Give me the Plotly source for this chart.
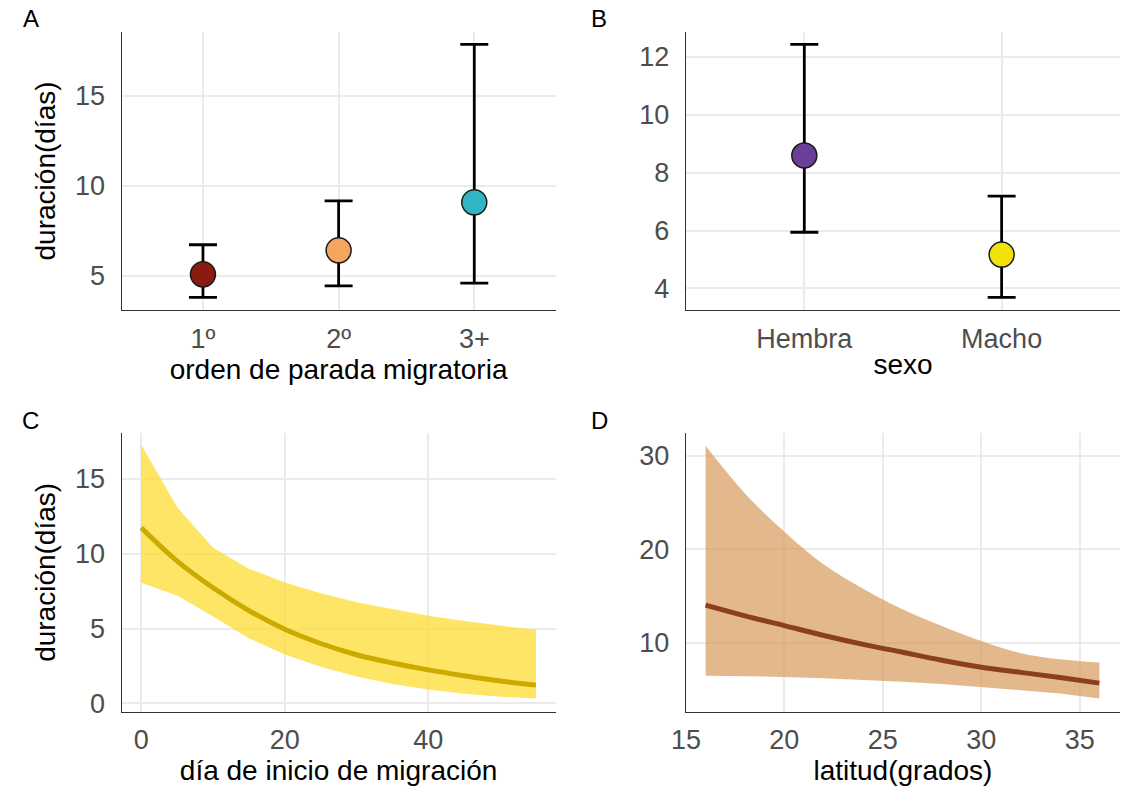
import plotly.graph_objects as go

# ---------------- data ----------------
# Panel A
orden_cat = ["1º", "2º", "3+"]
orden_est = [5.09, 6.42, 9.08]
orden_hi = [6.73, 9.16, 17.84]
orden_lo = [3.81, 4.45, 4.60]
orden_col = ["#8B1A13", "#F4A65F", "#2FB5C3"]

# Panel B
sexo_cat = ["Hembra", "Macho"]
sexo_est = [8.59, 5.17]
sexo_hi = [12.42, 7.19]
sexo_lo = [5.94, 3.69]
sexo_col = ["#6A3F98", "#F1E20A"]

# Panel C
dia_x = [0, 5, 10, 15, 20, 25, 30, 35, 40, 45, 50, 55]
dia_fit = [11.73, 9.5, 7.72, 6.2, 4.95, 4.0, 3.25, 2.7, 2.24, 1.85, 1.5, 1.22]
dia_hi = [17.27, 13.1, 10.4, 9.0, 8.07, 7.35, 6.75, 6.28, 5.85, 5.5, 5.2, 4.9]
dia_lo = [8.05, 7.2, 5.8, 4.35, 3.27, 2.45, 1.8, 1.3, 0.92, 0.65, 0.45, 0.32]

# Panel D
lat_x = [16, 18, 20, 22, 24, 26, 28, 30, 32, 34, 36]
lat_fit = [14.05, 12.9, 11.85, 10.8, 9.85, 9.0, 8.15, 7.4, 6.85, 6.3, 5.7]
lat_hi = [31.1, 26.0, 21.9, 18.4, 15.8, 13.6, 11.8, 10.2, 8.9, 8.25, 7.9]
lat_lo = [6.5, 6.45, 6.36, 6.22, 6.05, 5.85, 5.6, 5.3, 4.95, 4.6, 4.05]

W, H = 1122, 788
FONT = "Liberation Sans"
TICK_COL = "#4D4D4D"
GRID = "#EBEBEB"

fig = go.Figure()

def err_trace(xs, ys, hi, lo, cols, xa, ya):
    return go.Scatter(
        x=xs, y=ys, mode="markers", xaxis=xa, yaxis=ya,
        marker=dict(size=25, color=cols, line=dict(color="#1a1a1a", width=1.5)),
        error_y=dict(type="data", symmetric=False,
                     array=[h - y for h, y in zip(hi, ys)],
                     arrayminus=[y - l for y, l in zip(ys, lo)],
                     color="black", thickness=2.8, width=14),
        showlegend=False, hoverinfo="skip")

fig.add_trace(err_trace(orden_cat, orden_est, orden_hi, orden_lo, orden_col, "x", "y"))
fig.add_trace(err_trace(sexo_cat, sexo_est, sexo_hi, sexo_lo, sexo_col, "x2", "y2"))

# Panel C ribbon + line
fig.add_trace(go.Scatter(x=dia_x, y=dia_lo, mode="lines", line=dict(width=0),
                         xaxis="x3", yaxis="y3", showlegend=False, hoverinfo="skip"))
fig.add_trace(go.Scatter(x=dia_x, y=dia_hi, mode="lines", line=dict(width=0),
                         fill="tonexty", fillcolor="rgba(253,220,50,0.75)",
                         xaxis="x3", yaxis="y3", showlegend=False, hoverinfo="skip"))
fig.add_trace(go.Scatter(x=dia_x, y=dia_fit, mode="lines",
                         line=dict(color="#CCAA00", width=5, shape="spline"),
                         xaxis="x3", yaxis="y3", showlegend=False, hoverinfo="skip"))

# Panel D ribbon + line
fig.add_trace(go.Scatter(x=lat_x, y=lat_lo, mode="lines", line=dict(width=0),
                         xaxis="x4", yaxis="y4", showlegend=False, hoverinfo="skip"))
fig.add_trace(go.Scatter(x=lat_x, y=lat_hi, mode="lines", line=dict(width=0, shape="spline"),
                         fill="tonexty", fillcolor="rgba(212,150,85,0.68)",
                         xaxis="x4", yaxis="y4", showlegend=False, hoverinfo="skip"))
fig.add_trace(go.Scatter(x=lat_x, y=lat_fit, mode="lines",
                         line=dict(color="#8B3F1F", width=5, shape="spline"),
                         xaxis="x4", yaxis="y4", showlegend=False, hoverinfo="skip"))

def px_x(a, b):
    return [a / W, b / W]

def px_y(top, bottom):
    return [1 - bottom / H, 1 - top / H]

base = dict(showline=True, linecolor="#333333", linewidth=1.3,
            showgrid=True, gridcolor=GRID, gridwidth=1.6, zeroline=False,
            ticks="outside", tickcolor="rgba(0,0,0,0)",
            tickfont=dict(family=FONT, size=27, color=TICK_COL),
            title_font=dict(family=FONT, size=28, color="black"))
xax = dict(base, ticklen=4)
yax = dict(base, ticklen=10)

fig.update_layout(
    width=W, height=H, margin=dict(l=0, r=0, t=0, b=0),
    paper_bgcolor="white", plot_bgcolor="white",
    font=dict(family=FONT),
    xaxis=dict(domain=px_x(108, 548), anchor="y", type="category",
               range=[-0.6, 2.6], title=dict(text="orden de parada migratoria", standoff=1),
               **xax),
    yaxis=dict(domain=px_y(32, 313), anchor="x", range=[3.1, 18.54],
               tickvals=[5, 10, 15], title=dict(text="duración(días)", standoff=11),
               **yax),
    xaxis2=dict(domain=px_x(680, 1120), anchor="y2", type="category",
                range=[-0.6, 1.6], title=dict(text="sexo", standoff=1), **xax),
    yaxis2=dict(domain=px_y(32, 313), anchor="x2", range=[3.25, 12.86],
                tickvals=[4, 6, 8, 10, 12], **yax),
    xaxis3=dict(domain=px_x(108, 548), anchor="y3", range=[-2.75, 57.75],
                tickvals=[0, 20, 40], title=dict(text="día de inicio de migración", standoff=1),
                **xax),
    yaxis3=dict(domain=px_y(437, 718), anchor="x3", range=[-0.55, 18.05],
                tickvals=[0, 5, 10, 15], title=dict(text="duración(días)", standoff=11),
                **yax),
    xaxis4=dict(domain=px_x(680, 1120), anchor="y4", range=[15, 37.05],
                tickvals=[15, 20, 25, 30, 35], title=dict(text="latitud(grados)", standoff=1),
                **xax),
    yaxis4=dict(domain=px_y(437, 718), anchor="x4", range=[2.65, 32.45],
                tickvals=[10, 20, 30], **yax),
)

for letter, x, y in [("A", 16, 19), ("B", 592, 19), ("C", 16, 424), ("D", 592, 424)]:
    fig.add_annotation(text=letter, x=x / W, y=1 - y / H, xref="paper", yref="paper",
                       showarrow=False, xanchor="center", yanchor="middle",
                       font=dict(family=FONT, size=24, color="black"))

fig.write_html("out.html")
